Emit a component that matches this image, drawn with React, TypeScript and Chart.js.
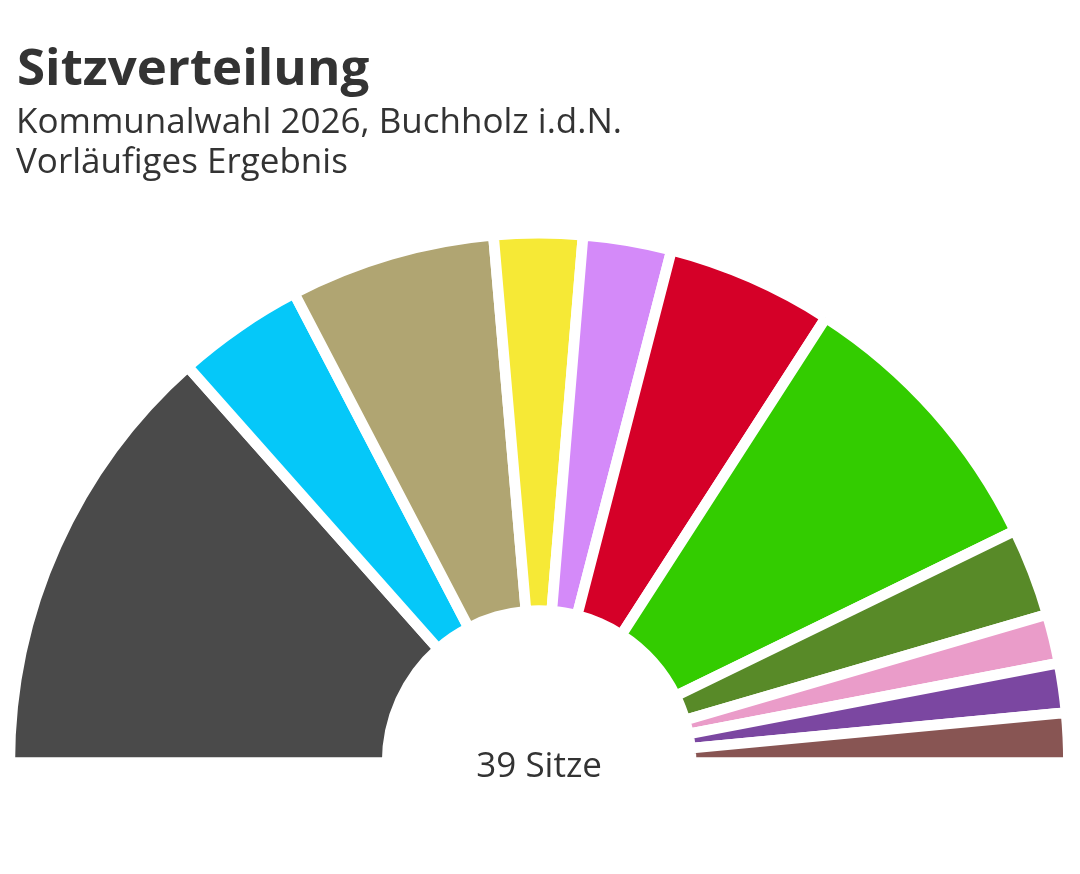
import React, { useEffect, useRef } from 'react';
import { Chart, DoughnutController, registerables } from 'chart.js';

Chart.register(...registerables);

// ---- data ----
const parties = ['Partei 1', 'Partei 2', 'Partei 3', 'Partei 4', 'Partei 5', 'Partei 6', 'Partei 7', 'Partei 8', 'Partei 9', 'Partei 10', 'Partei 11'];
const seats = [11, 3, 5, 2, 2, 4, 7, 2, 1, 1, 1];
const colors = ['#4a4a4a', '#05c8f9', '#b0a572', '#f6e936', '#d48af9', '#d50028', '#33cc00', '#588a28', '#ea9cc9', '#7b47a1', '#885553'];
const titleText = 'Sitzverteilung';
const subtitleLines = ['Kommunalwahl 2026, Buchholz i.d.N.', 'Vorläufiges Ergebnis'];
const totalSeats = seats.reduce((a, b) => a + b, 0);
const centerLabel = `${totalSeats} Sitze`;

// ---- style ----
const PAD_ANGLE = (1.12 * Math.PI) / 180; // angular padding added to each slice (like d3.pie padAngle)
const GAP = 10.7; // white gap between slices (px)
const FONT = '"Open Sans", "Noto Sans", sans-serif';
const TEXT_COLOR = '#333333';

// Doughnut whose slices get a fixed pad angle plus a share proportional to their seats
class PaddedDoughnutController extends (DoughnutController as any) {
  _circumference(i: number, reset: boolean) {
    const base = super._circumference(i, reset);
    if (!base) return 0;
    const total = (this as any)._getCircumference();
    const meta = (this as any)._cachedMeta;
    let n = 0;
    for (let k = 0; k < meta.data.length; k++) {
      if (meta._parsed[k]) n++;
    }
    return PAD_ANGLE + ((total - n * PAD_ANGLE) * base) / total;
  }
}
(PaddedDoughnutController as any).id = 'paddedDoughnut';
(PaddedDoughnutController as any).defaults = (DoughnutController as any).defaults;
(PaddedDoughnutController as any).overrides = (DoughnutController as any).overrides;
Chart.register(PaddedDoughnutController as any);

const textPlugin = {
  id: 'textPlugin',
  afterDraw(chart: any) {
    const ctx = chart.ctx;
    ctx.save();
    ctx.fillStyle = TEXT_COLOR;
    ctx.textAlign = 'left';
    ctx.textBaseline = 'alphabetic';
    ctx.font = `bold 51px ${FONT}`;
    ctx.fillText(titleText, 17, 85);
    ctx.font = `35px ${FONT}`;
    ctx.fillText(subtitleLines[0], 16, 133);
    ctx.fillText(subtitleLines[1], 16, 173);
    const meta = chart.getDatasetMeta(0);
    const cx = meta.data.length ? meta.data[0].x : 539;
    ctx.textAlign = 'center';
    ctx.font = `35px ${FONT}`;
    ctx.fillText(centerLabel, cx, 777);
    ctx.restore();
  },
};

export default function App() {
  const canvasRef = useRef<HTMLCanvasElement | null>(null);

  useEffect(() => {
    let chart: Chart | null = null;
    let cancelled = false;
    const make = () => {
      if (cancelled || !canvasRef.current) return;
      chart = new Chart(canvasRef.current, {
        type: 'paddedDoughnut' as any,
        data: {
          labels: parties,
          datasets: [
            {
              data: seats,
              backgroundColor: colors,
              borderColor: '#ffffff',
              borderWidth: GAP,
              hoverOffset: 0,
            },
          ],
        },
        options: {
          animation: false,
          responsive: true,
          maintainAspectRatio: false,
          rotation: -90,
          circumference: 180,
          cutout: '28.7%',
          layout: { padding: { left: 4.4, right: 6.2, top: 227.9, bottom: 106.05 } },
          plugins: {
            legend: { display: false },
            tooltip: { enabled: false },
            title: { display: false },
          },
        } as any,
        plugins: [textPlugin],
      });
    };
    const fonts = (document as any).fonts;
    const fontsReady = fonts
      ? Promise.all([fonts.load(`bold 51px ${FONT}`), fonts.load(`35px ${FONT}`)]).catch(() => null)
      : Promise.resolve(null);
    fontsReady.then(make);
    return () => {
      cancelled = true;
      if (chart) chart.destroy();
    };
  }, []);

  return (
    <div style={{ position: 'absolute', left: 0, top: 0, width: 1080, height: 874, background: '#ffffff' }}>
      <canvas ref={canvasRef} />
    </div>
  );
}
